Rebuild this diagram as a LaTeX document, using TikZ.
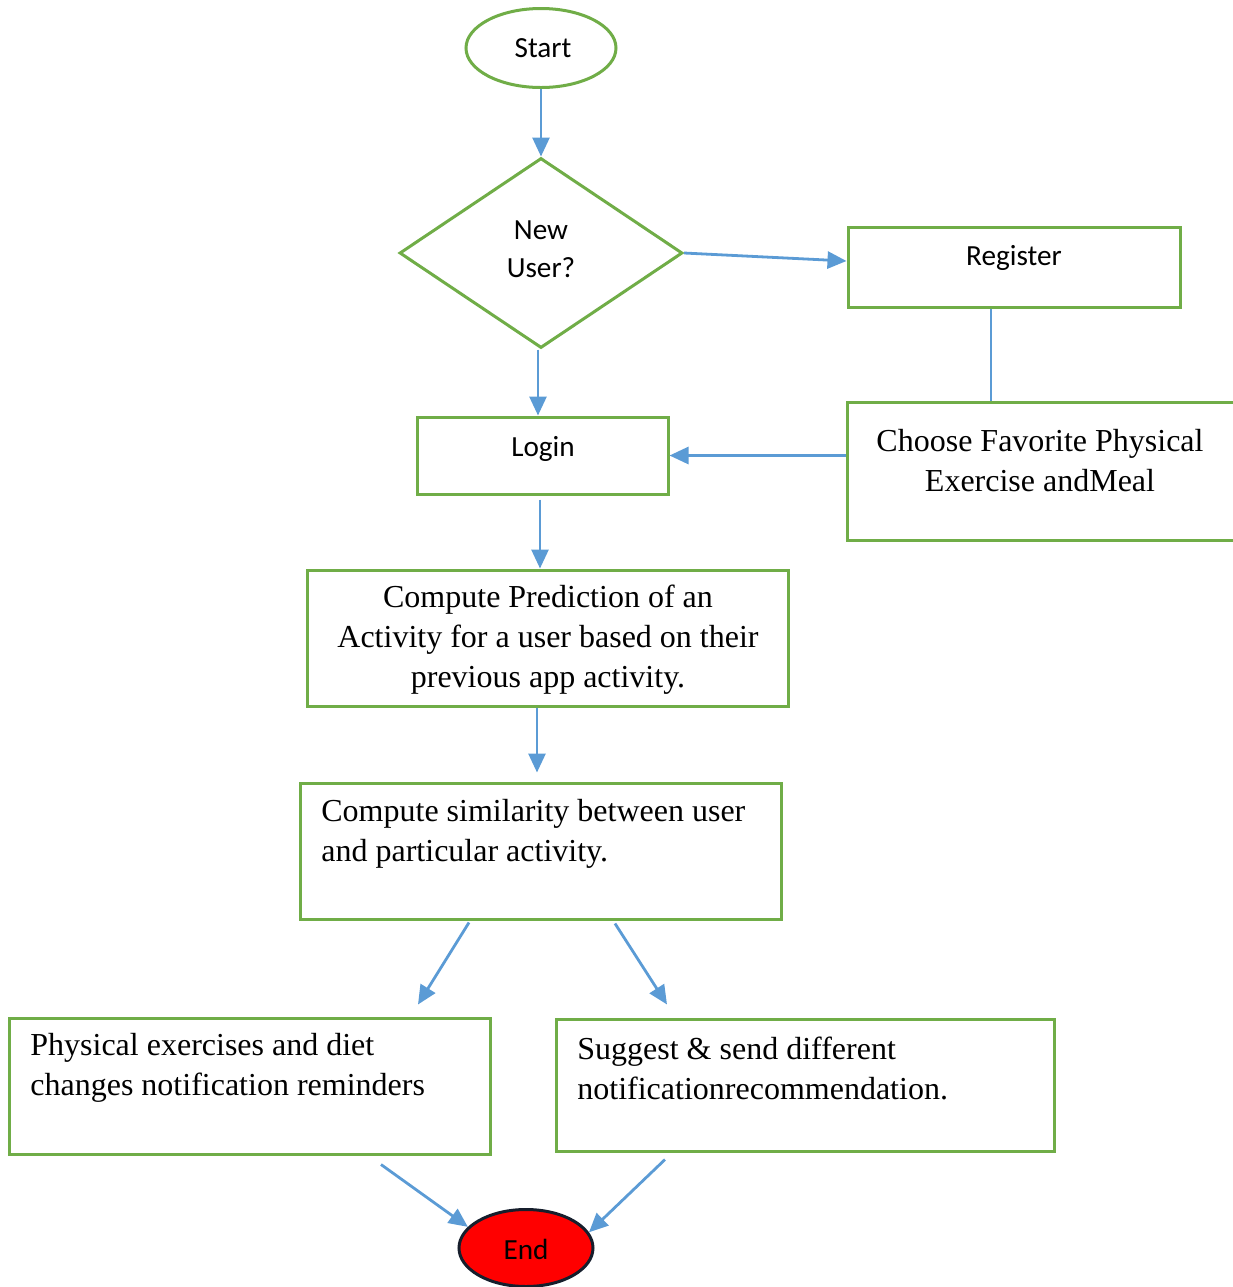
\documentclass[tikz,border=0pt]{standalone}
\usepackage{fontspec}
\setmainfont{Liberation Serif}
\newfontfamily\calib{Carlito}
\usetikzlibrary{shapes.geometric,arrows.meta}

\definecolor{boxgreen}{RGB}{112,173,71}
\definecolor{flowblue}{RGB}{91,155,213}
\definecolor{endred}{RGB}{255,0,0}
\definecolor{endrim}{RGB}{22,30,44}

\tikzset{
  box/.style={draw=boxgreen, line width=1.5pt, rectangle, inner sep=0pt, fill=white},
  oval/.style={draw=boxgreen, line width=1.5pt, ellipse, inner sep=0pt, fill=white},
  decision/.style={draw=boxgreen, line width=1.5pt, diamond, inner sep=0pt, fill=white},
  serif/.style={font=\fontsize{16pt}{20pt}\selectfont, inner sep=0pt},
  sans/.style={font=\calib\fontsize{14.6pt}{19pt}\selectfont, inner sep=0pt},
  arr/.style={draw=flowblue, line width=1.4pt, -{Triangle[length=9.5pt,width=8.5pt]}},
  link/.style={draw=flowblue, line width=1.4pt}
}

\begin{document}
\begin{tikzpicture}[x=0.5pt, y=-0.5pt]
\useasboundingbox (0,0) rectangle (1233,1287);

% start / decision
\node[oval, minimum width=75pt, minimum height=39.5pt] (start) at (541,48) {};
\node[sans] (startt) at (543,48) {Start};

\node[decision, minimum width=141.5pt, minimum height=95pt] (nu) at (541,253) {};
\node[sans, align=center] (nut) at (541,249) {New\\User?};

% registration branch
\node[box, minimum width=166pt, minimum height=40pt] (reg) at (1014,267) {};
\node[sans] (regt) at (1014,258) {Register};

\node[box, minimum width=196.5pt, minimum height=69pt] (ch) at (1043.5,471) {};
\node[serif, align=center] (cht) at (1040,461) {Choose Favorite Physical\\Exercise andMeal};

% login and processing
\node[box, minimum width=125.5pt, minimum height=38.5pt] (lg) at (542.5,455.5) {};
\node[sans] (lgt) at (543,449) {Login};

\node[box, minimum width=240.5pt, minimum height=68pt] (pr) at (547.5,638) {};
\node[serif, align=center] (prt) at (548,640) {Compute Prediction of an\\Activity for a user based on their\\previous app activity.};

\node[box, minimum width=240.5pt, minimum height=68pt] (si) at (540.5,851) {};
\node[serif, align=left, anchor=west] (sit) at (321,834) {Compute similarity between user\\and particular activity.};

% outputs
\node[box, minimum width=240.5pt, minimum height=68pt] (ph) at (249.5,1086) {};
\node[serif, align=left, anchor=west] (pht) at (30,1068) {Physical exercises and diet\\changes notification reminders};

\node[box, minimum width=249pt, minimum height=66pt] (su) at (805,1085) {};
\node[serif, align=left, anchor=west] (sut) at (577,1068.5) {Suggest \& send different\\notificationrecommendation.};

% end
\node[ellipse, draw=endrim, fill=endred, line width=1.5pt, inner sep=0pt,
      minimum width=67pt, minimum height=38.5pt] (en) at (526,1248) {};
\node[sans] (ent) at (526,1249) {End};

% connectors
\draw[arr] (start.south) -- (nu.north);
\draw[arr] (nu.east) -- ([yshift=3pt]reg.west);
\draw[link] ([xshift=-11.5pt]reg.south) -- ([xshift=-11.5pt]reg.south |- ch.north);
\draw[arr] (ch.west |- lg.east) -- (lg.east);
\draw[arr] ([xshift=-1.5pt]nu.south) -- ([xshift=-1.5pt]nu.south |- lg.north);
\draw[arr] ([xshift=-1.25pt,yshift=-2pt]lg.south) -- ([xshift=-1.25pt]lg.south |- pr.north);
\draw[arr] ([xshift=-5.25pt]pr.south) -- ([xshift=-5.25pt,yshift=4.5pt]pr.south |- si.north);
\draw[arr] ([xshift=-35.75pt,yshift=-1pt]si.south) -- ([xshift=84.25pt,yshift=6pt]ph.north);
\draw[arr] ([xshift=37.25pt,yshift=-1.5pt]si.south) -- ([xshift=-69pt,yshift=6.5pt]su.north);
\draw[arr] ([xshift=65.75pt,yshift=-4.5pt]ph.south) -- (en.160);
\draw[arr] ([xshift=-70pt,yshift=-3.5pt]su.south) -- (en.14);
\end{tikzpicture}
\end{document}
